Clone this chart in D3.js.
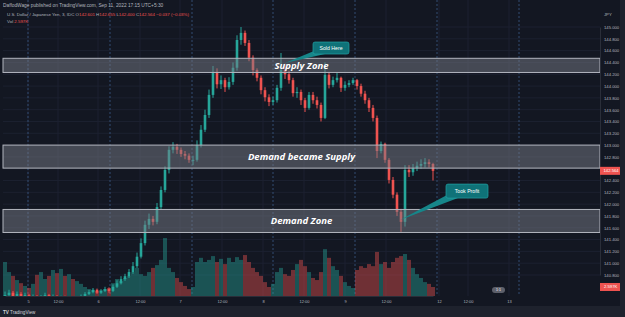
<!DOCTYPE html>
<html>
<head>
<meta charset="utf-8">
<script src="https://cdn.jsdelivr.net/npm/d3@7"></script>
<style>
  html, body { margin: 0; padding: 0; background: #1e222d; }
  svg { display: block; }
  text { font-family: "Liberation Sans", Arial, sans-serif; }
</style>
</head>
<body>
<div id="chart"></div>
<script>
// price candles (open = previous close)
const closes = [
  140.46,140.50,140.44,140.48,140.43,140.46,140.41,140.44,140.39,140.43,
  140.46,140.41,140.44,140.39,140.43,140.38,140.41,140.36,140.39,140.44,
  140.48,140.51,140.55,140.50,140.53,140.56,140.53,140.60,140.66,140.73,
  140.78,140.85,140.95,141.11,141.34,141.65,141.75,141.70,141.95,142.24,
  142.58,142.92,142.97,142.92,142.85,142.82,142.75,142.75,143.00,143.26,
  143.51,143.85,144.24,144.03,144.10,143.98,144.07,144.31,144.78,144.90,
  144.73,144.48,144.27,144.14,143.93,143.81,143.73,143.76,143.97,144.27,
  144.20,144.10,143.88,143.90,143.76,143.63,143.85,143.76,143.68,143.46,
  144.19,144.02,144.10,144.14,143.97,144.02,144.05,144.10,144.00,143.87,
  143.76,143.63,143.46,142.90,143.02,142.75,142.41,142.16,141.87,141.70,
  142.58,142.54,142.61,142.65,142.68,142.71,142.68,142.564
];
const highs = [
  140.52,140.55,140.53,140.52,140.51,140.50,140.48,140.47,140.46,140.46,
  140.50,140.48,140.47,140.46,140.45,140.45,140.44,140.43,140.42,140.47,
  140.51,140.55,140.58,140.57,140.56,140.60,140.59,140.64,140.71,140.78,
  140.82,140.90,141.02,141.18,141.42,141.72,141.84,141.80,142.02,142.30,
  142.64,142.98,143.05,143.02,142.96,142.90,142.86,142.82,143.08,143.34,
  143.60,143.94,144.34,144.30,144.18,144.14,144.15,144.40,144.86,145.00,
  144.94,144.78,144.52,144.30,144.18,143.98,143.86,143.82,144.02,144.56,
  144.38,144.26,144.14,143.98,143.94,143.80,143.90,143.90,143.82,143.72,
  144.40,144.24,144.16,144.22,144.16,144.08,144.10,144.14,144.12,144.04,
  143.92,143.80,143.68,143.50,143.06,143.04,142.78,142.46,142.20,141.92,
  142.66,142.66,142.68,142.72,142.76,142.78,142.76,142.70
];
const lows = [
  140.42,140.44,140.41,140.42,140.40,140.41,140.38,140.39,140.36,140.37,
  140.41,140.39,140.38,140.36,140.37,140.35,140.36,140.33,140.34,140.38,
  140.43,140.46,140.49,140.48,140.48,140.51,140.50,140.51,140.58,140.64,
  140.70,140.75,140.82,140.92,141.08,141.30,141.58,141.64,141.66,141.92,
  142.20,142.52,142.86,142.85,142.80,142.76,142.70,142.66,142.72,142.96,
  143.22,143.46,143.80,143.96,143.95,143.90,143.94,144.02,144.26,144.70,
  144.68,144.42,144.18,144.08,143.86,143.74,143.66,143.68,143.72,143.92,
  144.12,144.04,143.82,143.80,143.68,143.56,143.60,143.70,143.62,143.40,
  143.44,143.96,143.98,144.06,143.90,143.92,143.98,144.02,143.94,143.82,
  143.70,143.56,143.40,142.78,142.86,142.70,142.35,142.10,141.80,141.53,
  141.62,142.46,142.48,142.56,142.60,142.62,142.62,142.40
];
// volume in thousands
const volumes = [
  9.8,6.9,5.8,4.6,3.7,2.9,2.3,3.5,6.1,6.9,
  4.9,5.8,7.5,6.6,7.8,5.8,6.3,4.9,4.3,3.5,
  2.6,2.0,1.7,1.4,1.7,2.0,2.3,3.7,4.9,4.3,
  5.2,5.8,6.9,8.1,6.3,5.8,6.9,8.1,8.9,10.4,
  16.7,8.1,6.9,5.2,4.0,2.9,2.0,2.6,9.8,11.0,
  9.8,10.4,11.5,9.8,10.7,9.2,11.0,9.8,11.2,10.4,
  11.8,9.8,8.1,6.9,5.8,4.0,2.6,3.5,6.9,8.1,
  6.3,5.8,7.5,9.2,10.4,8.6,6.9,5.2,4.6,6.9,
  13.5,11.0,8.6,7.5,5.8,4.0,2.9,2.3,7.5,8.6,
  8.1,9.2,8.6,12.7,9.2,9.8,8.1,9.8,11.0,11.5,
  12.1,10.4,8.1,6.3,5.2,4.0,3.5,2.597
];

const priceTicks = [140.8,141.0,141.2,141.4,141.6,141.8,142.0,142.2,142.4,142.6,142.8,143.0,143.2,143.4,143.6,143.8,144.0,144.2,144.4,144.6,144.8,145.0];
const timeTickLabels = ["5","12:00","6","12:00","7","12:00","8","12:00","9","12:00","12","12:00","13"];
const timeTickBars = [5.75,13.25,23.25,33.75,43.75,54.25,64.5,74.75,85,95.25,108.5,115.75,126];
const sessionBars = [5.75,26.25,46.75,67,87.5,108,128.5];

const zoneNames = ["Supply Zone","Demand became Supply","Demand Zone"];
const zoneTops = [144.47,143.0,141.91];
const zoneBottoms = [144.23,142.61,141.52];

const calloutTexts = ["Sold Here","Took Profit"];
const calloutBars = [70,98.75];
const calloutPrices = [144.39,141.73];

const width = 625, height = 317;
const pane = {left: 3, right: 600, top: 0, bottom: 296};
const up = "#26a69a", down = "#ef5350";

const svg = d3.select("#chart").append("svg")
  .attr("width", width).attr("height", height);

svg.append("rect").attr("x", 0).attr("y", 0).attr("width", 620).attr("height", 306)
  .attr("fill", "#131722");

const x = d3.scaleLinear().domain([0, closes.length - 1]).range([5, 433]);
const y = d3.scaleLinear().domain([140.8, 145.0]).range([275, 27]);
const yVol = d3.scaleLinear().domain([0, 17]).range([pane.bottom, 237]);

const candles = closes.map(function(c, i) {
  return {i: i, o: i === 0 ? c : closes[i - 1], c: c, h: highs[i], l: lows[i], v: volumes[i]};
});
const last = candles[candles.length - 1];

svg.append("defs").append("clipPath").attr("id", "pane")
  .append("rect").attr("x", pane.left).attr("y", pane.top)
  .attr("width", pane.right - pane.left).attr("height", pane.bottom - pane.top);

// grid
const grid = svg.append("g").attr("clip-path", "url(#pane)");
grid.selectAll(".hg").data(priceTicks).enter().append("line")
  .attr("x1", pane.left).attr("x2", pane.right)
  .attr("y1", function(d) {return y(d);}).attr("y2", function(d) {return y(d);})
  .style("stroke", "#1c2130").style("stroke-width", 1);
grid.selectAll(".vg").data(timeTickBars).enter().append("line")
  .attr("x1", function(d) {return x(d);}).attr("x2", function(d) {return x(d);})
  .attr("y1", pane.top).attr("y2", pane.bottom)
  .style("stroke", "#1c2130").style("stroke-width", 1);
grid.selectAll(".sess").data(sessionBars).enter().append("line")
  .attr("x1", function(d) {return x(d);}).attr("x2", function(d) {return x(d);})
  .attr("y1", pane.top).attr("y2", pane.bottom)
  .style("stroke", "#3b5a85").style("stroke-width", 1)
  .style("stroke-dasharray", "2,2").style("opacity", 0.8);

const plot = svg.append("g").attr("clip-path", "url(#pane)");

// volume
plot.selectAll(".vol").data(candles).enter().append("rect")
  .attr("x", function(d) {return x(d.i) - 2;})
  .attr("width", 4)
  .attr("y", function(d) {return yVol(d.v);})
  .attr("height", function(d) {return pane.bottom - yVol(d.v);})
  .attr("fill", function(d) {return d.c >= d.o ? up : down;})
  .attr("opacity", 0.42);

// candles
plot.selectAll(".wick").data(candles).enter().append("line")
  .attr("x1", function(d) {return x(d.i);}).attr("x2", function(d) {return x(d.i);})
  .attr("y1", function(d) {return y(d.h);}).attr("y2", function(d) {return y(d.l);})
  .style("stroke", function(d) {return d.c >= d.o ? up : down;})
  .style("stroke-width", 1);
plot.selectAll(".body").data(candles).enter().append("rect")
  .attr("x", function(d) {return x(d.i) - 1.3;})
  .attr("width", 2.6)
  .attr("y", function(d) {return y(Math.max(d.o, d.c));})
  .attr("height", function(d) {return Math.max(1, Math.abs(y(d.o) - y(d.c)));})
  .attr("fill", function(d) {return d.c >= d.o ? up : down;});

// zones
const zones = svg.append("g");
zones.selectAll("rect").data(zoneNames).enter().append("rect")
  .attr("x", pane.left).attr("width", pane.right - pane.left)
  .attr("y", function(d, i) {return y(zoneTops[i]);})
  .attr("height", function(d, i) {return y(zoneBottoms[i]) - y(zoneTops[i]);})
  .attr("fill", "#787b86").attr("fill-opacity", 0.5)
  .attr("stroke", "#b2b5be").attr("stroke-width", 1);
zones.selectAll("text").data(zoneNames).enter().append("text")
  .attr("x", (pane.left + pane.right) / 2)
  .attr("y", function(d, i) {return (y(zoneTops[i]) + y(zoneBottoms[i])) / 2;})
  .attr("dy", "0.35em")
  .attr("text-anchor", "middle")
  .style("font-family", "'Open Sans', sans-serif")
  .style("font-weight", "bold").style("font-style", "italic")
  .style("font-size", "9.5px").style("fill", "#ffffff")
  .text(function(d) {return d;});

// callouts
const boxes = [{dx: 28, dy: -21, w: 36, h: 12}, {dx: 46, dy: -36, w: 42, h: 14}];
calloutTexts.forEach(function(t, i) {
  const tx = x(calloutBars[i]), ty = y(calloutPrices[i]);
  const b = boxes[i];
  const bx = tx + b.dx, by = ty + b.dy;
  const g = svg.append("g");
  g.append("polygon")
    .attr("points", [[tx, ty], [bx + 1, by + b.h - 3], [bx + 12, by + b.h]].map(function(p) {return p.join(",");}).join(" "))
    .attr("fill", "#16868a");
  g.append("rect").attr("x", bx).attr("y", by).attr("width", b.w).attr("height", b.h)
    .attr("rx", 2).attr("fill", "#0f7278").attr("stroke", "#22a0a3").attr("stroke-width", 0.7);
  g.append("text").attr("x", bx + b.w / 2).attr("y", by + b.h / 2).attr("dy", "0.35em")
    .attr("text-anchor", "middle").style("font-size", "5.2px").style("fill", "#ffffff")
    .text(t);
});

// price axis (labels hidden under the last price / volume tags)
const tagYs = [y(last.c), yVol(last.v)];
const shownTicks = priceTicks.filter(function(p) {
  return tagYs.every(function(t) {return Math.abs(y(p) - t) > 6;});
});
const yAxis = svg.append("g").attr("transform", "translate(" + pane.right + ",0)")
  .call(d3.axisRight(y).tickValues(shownTicks).tickFormat(d3.format(".3f")).tickSize(0).tickPadding(4));
yAxis.select(".domain").attr("stroke", "#2a2e39");
yAxis.selectAll("text").style("font-size", "4.2px").style("fill", "#b2b5be");
svg.append("text").attr("x", 604).attr("y", 15.5).style("font-size", "4.2px")
  .style("fill", "#b2b5be").text("JPY");

// last price and volume tags
svg.append("rect").attr("x", pane.right).attr("y", y(last.c) - 4).attr("width", 20).attr("height", 8)
  .attr("fill", down);
svg.append("text").attr("x", pane.right + 3.5).attr("y", y(last.c)).attr("dy", "0.35em")
  .style("font-size", "4.2px").style("fill", "#ffffff").text(d3.format(".3f")(last.c));
svg.append("rect").attr("x", pane.right).attr("y", yVol(last.v) - 4).attr("width", 20).attr("height", 8)
  .attr("fill", down);
svg.append("text").attr("x", pane.right + 4).attr("y", yVol(last.v)).attr("dy", "0.35em")
  .style("font-size", "4.2px").style("fill", "#ffffff").text(d3.format(".3f")(last.v) + "K");

// time axis
const xAxis = svg.append("g").attr("transform", "translate(0," + pane.bottom + ")")
  .call(d3.axisBottom(x).tickValues(timeTickBars)
    .tickFormat(function(d, i) {return timeTickLabels[i];}).tickSize(0).tickPadding(4));
xAxis.select(".domain").attr("stroke", "#2a2e39");
xAxis.selectAll("text").style("font-size", "4px").style("fill", "#b2b5be");

// small scale button
svg.append("rect").attr("x", 492).attr("y", 287).attr("width", 13).attr("height", 6).attr("rx", 3)
  .attr("fill", "#5d606b");
svg.append("text").attr("x", 498.5).attr("y", 290).attr("dy", "0.35em").attr("text-anchor", "middle")
  .style("font-size", "3.5px").style("fill", "#ffffff").text("1:1");

// header
svg.append("text").attr("x", 3).attr("y", 6.5).style("font-size", "4.8px").style("fill", "#b2b5be")
  .text("DaffodWage published on TradingView.com, Sep 11, 2022 17:15 UTC+5:30");
const h2 = svg.append("text").attr("x", 7).attr("y", 15.5).style("font-size", "4.4px").style("fill", "#b2b5be");
h2.append("tspan").text("U.S. Dollar / Japanese Yen, 3, IDC  O");
h2.append("tspan").style("fill", down).text("142.601");
h2.append("tspan").text(" H");
h2.append("tspan").style("fill", down).text("142.655");
h2.append("tspan").text(" L");
h2.append("tspan").style("fill", down).text("142.400");
h2.append("tspan").text(" C");
h2.append("tspan").style("fill", down).text("142.564 \u22120.037 (\u22120.03%)");
const h3 = svg.append("text").attr("x", 7).attr("y", 22.5).style("font-size", "4.4px").style("fill", "#b2b5be");
h3.append("tspan").text("Vol  ");
h3.append("tspan").style("fill", down).text("2.597K");

// footer
svg.append("text").attr("x", 3).attr("y", 314).style("font-size", "4.6px").style("fill", "#d1d4dc")
  .style("font-weight", "bold").text("TV");
svg.append("text").attr("x", 10).attr("y", 314).style("font-size", "4.6px").style("fill", "#d1d4dc")
  .text("TradingView");
</script>
</body>
</html>
